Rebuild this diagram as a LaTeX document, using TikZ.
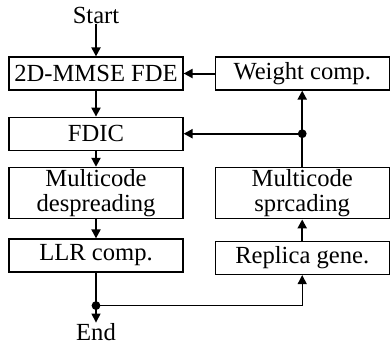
\documentclass[tikz,border=0pt]{standalone}
\usepackage{fontspec}
\setmainfont{Liberation Serif}
\usetikzlibrary{positioning}
\usetikzlibrary{arrows.meta}
\begin{document}
\begin{tikzpicture}[x=0.5pt,y=-0.5pt,>={Triangle[length=4.5pt,width=4.5pt]},
		font=\fontsize{12.3}{12.5}\selectfont,
		block/.style={draw,line width=0.6pt,minimum width=87pt,minimum height=16.5pt,inner sep=1pt,align=center},
		tall block/.style={block,minimum height=25pt},
		term/.style={inner sep=0pt},
		link/.style={->,line width=1pt},
		thin link/.style={->,line width=0.6pt}]
		\useasboundingbox (0,0) rectangle (390,343);
		
		\node[block] (fde) at (96,73.5) {2D-MMSE FDE};
		\node[block] (fdic) [below=13pt of fde] {FDIC};
		\node[tall block] (desp) [below=8pt of fdic] {Multicode\\despreading};
		\node[block] (llr) [below=9.5pt of desp] {LLR comp.};
		\node[block] (weight) [right=15.5pt of fde] {Weight comp.};
		\node[tall block] (spread) [right=15.5pt of desp] {Multicode\\sprcading};
		\node[block, yshift=-1.25pt] (replica) [right=15.5pt of llr] {Replica gene.};
		\node[term] (start) [above=16pt of fde] {Start};
		\coordinate[below=16.5pt of llr] (jl);
		\node[term] (end) [below=8.5pt of jl] {End};
		\coordinate (jr) at (spread.north |- fdic.east);
		
		\draw[link] (start) -- (fde);
		\draw[link] (fde) -- (fdic);
		\draw[link] (fdic) -- (desp);
		\draw[link] (desp) -- (llr);
		\draw[line width=0.6pt] (llr) -- (jl);
		\draw[thin link] (jl) -- (end);
		\draw[thin link] (jl) -| (replica);
		\draw[link] (replica) -- (spread);
		\draw[line width=1pt] (spread) -- (jr);
		\draw[link] (jr) -- (weight);
		\draw[link] (jr) -- (fdic);
		\draw[link] (weight) -- (fde);
		\fill (jl) circle (2.2pt);
		\fill (jr) circle (2.2pt);
		\end{tikzpicture}
\end{document}
